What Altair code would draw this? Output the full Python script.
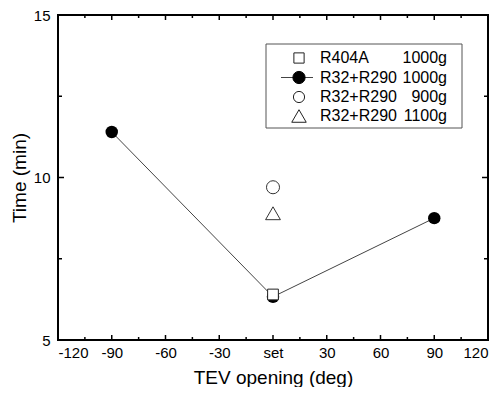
import altair as alt
import pandas as pd

# ---- data ----
x_ticks = [-120, -90, -60, -30, 0, 30, 60, 90, 120]
x_minor = [-105, -75, -45, -15, 15, 45, 75, 105]
y_ticks = [5, 10, 15]
y_minor = [7.5, 12.5]

tev_r32_1000 = [-90, 0, 90]
t_r32_1000 = [11.4, 6.33, 8.75]
tev_r404a = [0]
t_r404a = [6.4]
tev_r32_900 = [0]
t_r32_900 = [9.7]
tev_r32_1100 = [0]
t_r32_1100 = [8.9]

legend_names = ["R404A", "R32+R290", "R32+R290", "R32+R290"]
legend_mass = ["1000g", "1000g", "900g", "1100g"]
legend_shapes = ["square", "circle", "circle", "triangle-up"]
legend_fills = ["white", "black", "white", "white"]
legend_sizes = [105, 150, 125, 210]

FONT = "Liberation Sans"
W, H = 430, 325

xs = alt.Scale(domain=[-120, 120], nice=False, zero=False)
ys = alt.Scale(domain=[5, 15], nice=False, zero=False)

x_axis = alt.Axis(values=x_ticks,
                  labelExpr="datum.value == 0 ? 'set' : toString(datum.value)",
                  ticks=False, domain=False, grid=False, labelPadding=5,
                  labelFontSize=15, titleFontSize=19, labelFont=FONT, titleFont=FONT,
                  labelColor="black", titleColor="black", titleFontWeight="normal",
                  titlePadding=8, title="TEV opening (deg)")
y_axis = alt.Axis(values=y_ticks, ticks=False, domain=False, grid=False, labelPadding=8,
                  labelFontSize=15, titleFontSize=19, labelFont=FONT, titleFont=FONT,
                  labelColor="black", titleColor="black", titleFontWeight="normal",
                  titlePadding=4, title="Time (min)")

X = alt.X("x:Q", scale=xs, axis=x_axis)
Y = alt.Y("y:Q", scale=ys, axis=y_axis)


def df(xv, yv):
    return pd.DataFrame({"x": xv, "y": yv})


line = alt.Chart(df(tev_r32_1000, t_r32_1000)).mark_line(color="#444", strokeWidth=1).encode(x=X, y=Y)
filled = alt.Chart(df(tev_r32_1000, t_r32_1000)).mark_point(
    shape="circle", filled=True, color="black", size=155, opacity=1).encode(x=X, y=Y)
square = alt.Chart(df(tev_r404a, t_r404a)).mark_point(
    shape="square", filled=True, fill="white", stroke="#222", strokeWidth=1, size=115,
    opacity=1).encode(x=X, y=Y)
circ = alt.Chart(df(tev_r32_900, t_r32_900)).mark_point(
    shape="circle", filled=False, stroke="#333", strokeWidth=1, size=170, opacity=1).encode(x=X, y=Y)
tri = alt.Chart(df(tev_r32_1100, t_r32_1100)).mark_point(
    shape="triangle-up", filled=False, stroke="#333", strokeWidth=1, size=220, opacity=1).encode(x=X, y=Y)

# frame
frame = alt.Chart(pd.DataFrame({"a": [0]})).mark_rect(
    fill="transparent", stroke="black", strokeWidth=2).encode(
    x=alt.value(0), x2=alt.value(W), y=alt.value(0), y2=alt.value(H))

# inward ticks
xmaj = pd.DataFrame({"x": x_ticks})
xmin = pd.DataFrame({"x": x_minor})
ymaj = pd.DataFrame({"y": y_ticks})
ymin = pd.DataFrame({"y": y_minor})
tick_layers = []
for d, ln in [(xmaj, 5), (xmin, 3)]:
    tick_layers.append(alt.Chart(d).mark_rule(color="black", strokeWidth=1.5).encode(
        x=X, y=alt.value(H), y2=alt.value(H - ln)))
    tick_layers.append(alt.Chart(d).mark_rule(color="black", strokeWidth=1.5).encode(
        x=X, y=alt.value(0), y2=alt.value(ln)))
for d, ln in [(ymaj, 6), (ymin, 4)]:
    tick_layers.append(alt.Chart(d).mark_rule(color="black", strokeWidth=1.5).encode(
        y=Y, x=alt.value(0), x2=alt.value(ln)))
    tick_layers.append(alt.Chart(d).mark_rule(color="black", strokeWidth=1.5).encode(
        y=Y, x=alt.value(W), x2=alt.value(W - ln)))

# legend
leg_layers = []
box = alt.Chart(pd.DataFrame({"a": [0]})).mark_rect(
    fill="white", stroke="#555", strokeWidth=1).encode(
    x=alt.value(208), x2=alt.value(404), y=alt.value(29), y2=alt.value(113))
leg_layers.append(box)
row_y = [43, 62.5, 82, 101]
for i, (nm, ms, sh, fl, sz) in enumerate(zip(legend_names, legend_mass, legend_shapes,
                                              legend_fills, legend_sizes)):
    d = pd.DataFrame({"name": [nm], "mass": [ms]})
    if i == 1:
        leg_layers.append(alt.Chart(d).mark_rule(color="#444", strokeWidth=1).encode(
            x=alt.value(223), x2=alt.value(255), y=alt.value(row_y[i])))
    leg_layers.append(alt.Chart(d).mark_point(
        shape=sh, filled=True, fill=fl, stroke="#222" if fl == "white" else "black",
        strokeWidth=1, size=sz, opacity=1).encode(x=alt.value(241), y=alt.value(row_y[i])))
    leg_layers.append(alt.Chart(d).mark_text(
        align="left", baseline="middle", font=FONT, fontSize=16, color="black").encode(
        text="name:N", x=alt.value(262), y=alt.value(row_y[i])))
    leg_layers.append(alt.Chart(d).mark_text(
        align="right", baseline="middle", font=FONT, fontSize=16, color="black").encode(
        text="mass:N", x=alt.value(389), y=alt.value(row_y[i])))

chart = alt.layer(line, filled, square, circ, tri, frame, *tick_layers, *leg_layers).properties(
    width=W, height=H,
    autosize=alt.AutoSizeParams(type="none"),
    padding={"left": 50, "top": 7, "right": 7, "bottom": 47},
    background="white",
).configure_view(stroke=None)

chart.save("out.html", embed_options={"renderer": "svg", "actions": False})
